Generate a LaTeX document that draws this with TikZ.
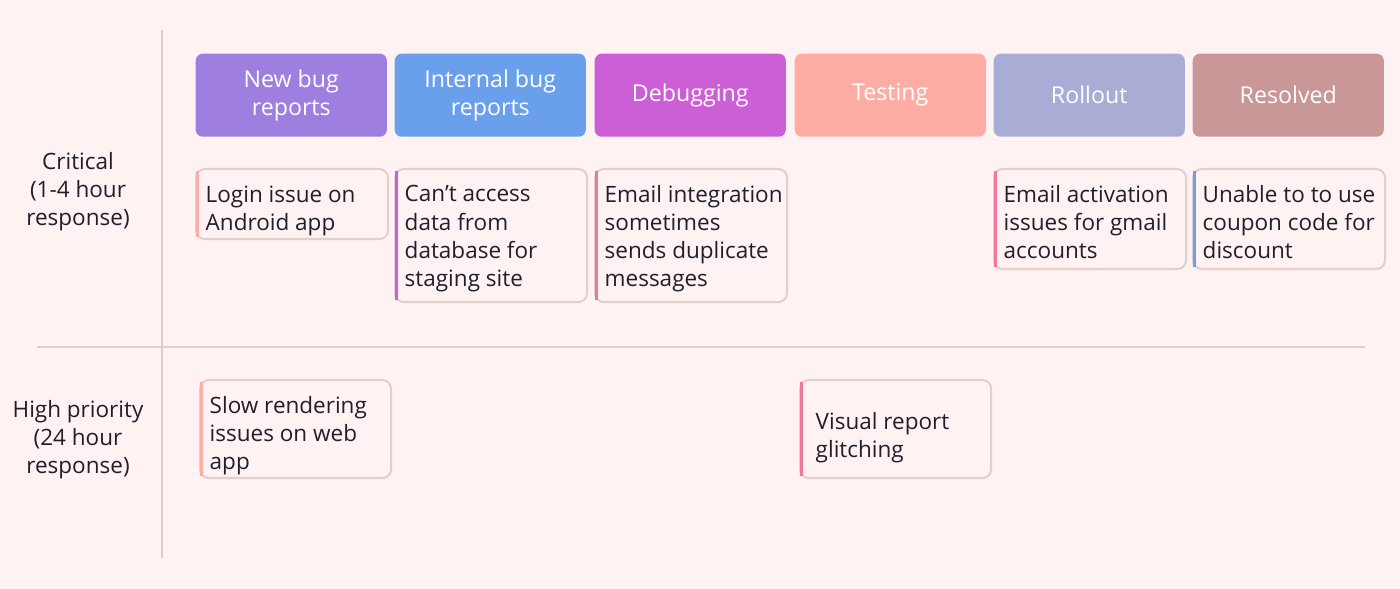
\documentclass[tikz,border=0pt]{standalone}
\usepackage{fontspec}
\setmainfont{Open Sans}
\usetikzlibrary{positioning}
\definecolor{bg}{HTML}{FEF3F2}
\definecolor{rule}{HTML}{E0CDCD}
\definecolor{cardline}{HTML}{E3CFCF}
\definecolor{ink}{HTML}{1F1F2E}
\definecolor{colnew}{HTML}{9E7FE0}
\definecolor{colint}{HTML}{6AA0EB}
\definecolor{coldbg}{HTML}{CC5FD6}
\definecolor{coltst}{HTML}{FDADA3}
\definecolor{colrol}{HTML}{A9ADD6}
\definecolor{colres}{HTML}{C99797}
\definecolor{barpink}{HTML}{F0779B}
\newcommand{\card}[7]{%
  \node[cardbox, minimum width=#4*0.01cm, minimum height=#5*0.01cm] (#1) at (#2,#3) {};
  \fill[#6] ([xshift=0.012cm,yshift=-0.03cm]#1.north west) rectangle ([xshift=0.035cm,yshift=0.03cm]#1.south west);
  \node[cardtext] (#1-t) at ([xshift=0.1cm,yshift=-0.24cm]#1.north west) {#7};
}
\begin{document}
\begin{tikzpicture}[x=0.01cm,y=-0.01cm,
  font=\fontsize{6.4}{7.97}\selectfont,
  head/.style={rounded corners=2pt, minimum width=1.91cm, minimum height=0.83cm,
    anchor=north west, text=white, align=center, font=\fontsize{6.6}{7.97}\selectfont, inner sep=0},
  cardbox/.style={draw=cardline, line width=0.6pt, fill=bg, rounded corners=2.5pt, anchor=north west, inner sep=0},
  cardtext/.style={anchor=north west, align=left, text=ink, inner sep=0, yshift=0.07cm},
  rowlabel/.style={align=center, text=ink, inner sep=0}]
\fill[bg] (0,0) rectangle (1400,589);
\draw[rule, line width=0.5pt] (162,30) -- (162,558);
\draw[rule, line width=0.5pt] (37,347) -- (1365,347);
% column heads
\node[head, fill=colnew] (hnew) at (195,53) {New bug\\reports};
\node[head, fill=colint] (hint) at (394,53) {Internal bug\\reports};
\node[head, fill=coldbg] (hdbg) at (594,53) {Debugging};
\node[head, fill=coltst] (htst) at (794,53) {Testing};
\node[head, fill=colrol] (hrol) at (993,53) {Rollout};
\node[head, fill=colres] (hres) at (1192,53) {Resolved};
% rows
\node[rowlabel] (rcrit) at (78,192) {Critical\\(1-4 hour\\response)};
\node[rowlabel] (rhigh) at (78,440) {High priority\\(24 hour\\response)};
% cards
\card{c1}{195}{168}{192}{70}{coltst}{Login issue on\\Android app}
\card{c2}{394}{168}{192}{133}{coldbg}{Can’t access\\data from\\database for\\staging site}
\card{c3}{594}{168}{192}{133}{barpink}{Email integration\\sometimes\\sends duplicate\\messages}
\card{c4}{993}{168}{192}{100}{barpink}{Email activation\\issues for gmail\\accounts}
\card{c5}{1192}{168}{192}{100}{colint}{Unable to to use\\coupon code for\\discount}
\card{c6}{199}{379}{191}{98}{coltst}{Slow rendering\\issues on web\\app}
\node[cardbox, minimum width=1.91cm, minimum height=0.98cm] (c7) at (799,379) {};
\fill[barpink] ([xshift=0.012cm,yshift=-0.03cm]c7.north west) rectangle ([xshift=0.035cm,yshift=0.03cm]c7.south west);
\node[cardtext] (c7-t) at ([xshift=0.16cm,yshift=-0.4cm]c7.north west) {Visual report\\glitching};
\end{tikzpicture}
\end{document}
